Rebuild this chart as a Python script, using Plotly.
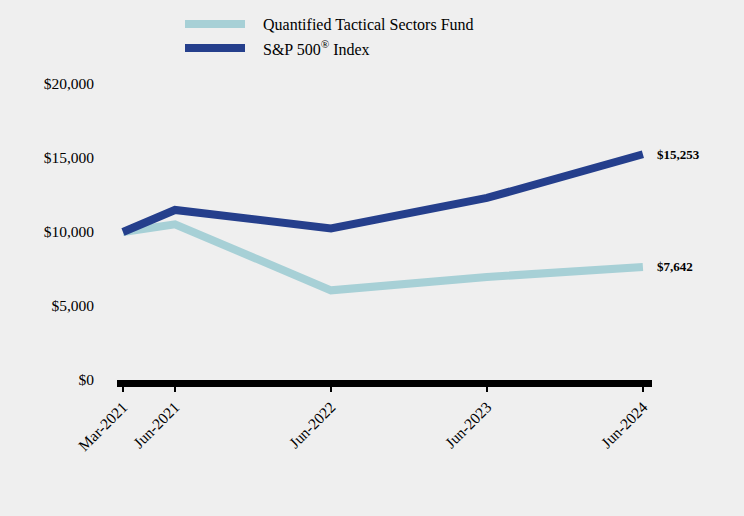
import plotly.graph_objects as go

months = [0, 4, 16, 28, 40]
tick_labels = ["Mar-2021", "Jun-2021", "Jun-2022", "Jun-2023", "Jun-2024"]
fund_name = "Quantified Tactical Sectors Fund"
index_name = "S&P 500<sup>®</sup> Index"
fund_values = [10000, 10520, 6060, 6960, 7642]
index_values = [10000, 11490, 10240, 12300, 15253]
fund_color = "#a7d0d6"
index_color = "#253f8c"

FONT = "Liberation Serif"
fig = go.Figure()
fig.add_trace(go.Scatter(x=months, y=fund_values, mode="lines", name=fund_name,
                         line=dict(color=fund_color, width=8)))
fig.add_trace(go.Scatter(x=months, y=index_values, mode="lines", name=index_name,
                         line=dict(color=index_color, width=8)))

for vals in (index_values, fund_values):
    fig.add_annotation(x=months[-1], y=vals[-1], text=f"<b>${vals[-1]:,}</b>",
                       showarrow=False, xanchor="left", xshift=12,
                       font=dict(family=FONT, size=13, color="black"))

# legend drawn at the top of the figure
for i, (name, color) in enumerate([(fund_name, fund_color), (index_name, index_color)]):
    ypos = (516 - 136 - (24 + 24 * i)) / 296
    fig.add_shape(type="line", xref="paper", yref="paper",
                  x0=(185 - 117) / 535, x1=(245 - 117) / 535,
                  y0=ypos, y1=ypos, line=dict(color=color, width=8))
    fig.add_annotation(xref="paper", yref="paper", x=(261 - 117) / 535,
                       y=ypos, text=name, showarrow=False,
                       xanchor="left", yanchor="middle",
                       font=dict(family=FONT, size=16, color="black"))

fig.update_layout(
    width=744, height=516,
    paper_bgcolor="#efefef", plot_bgcolor="#efefef",
    margin=dict(l=117, r=92, t=84, b=136),
    font=dict(family=FONT, size=15, color="black"),
    showlegend=False,
    xaxis=dict(range=[-0.46, 40.7], tickmode="array", tickvals=months,
               ticktext=tick_labels, tickangle=-45, showgrid=False, zeroline=False,
               showline=True, linecolor="black", linewidth=7,
               ticks="outside", ticklen=5, tickwidth=2, tickcolor="black",
               tickfont=dict(family=FONT, size=15.5)),
    yaxis=dict(range=[0, 20000], tickvals=[0, 5000, 10000, 15000, 20000],
               ticktext=["$0", "$5,000", "$10,000", "$15,000", "$20,000"],
               showgrid=False, zeroline=False, showline=False, ticks="",
               ticklabelstandoff=22, tickfont=dict(family=FONT, size=15.5)),
)
fig.write_html("out.html", config={"displayModeBar": False},
               post_script="document.body.style.margin='0';")
